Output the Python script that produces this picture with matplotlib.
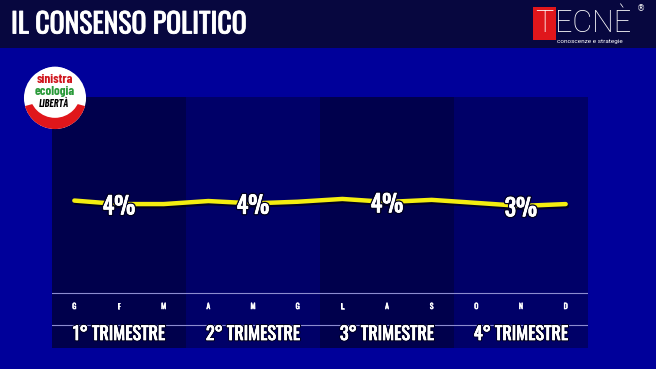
import matplotlib.pyplot as plt
import matplotlib.patheffects as pe
from matplotlib.patches import Rectangle, Circle, Wedge

months = ["G", "F", "M", "A", "M", "G", "L", "A", "S", "O", "N", "D"]
consensus = [3.96, 3.81, 3.81, 3.94, 3.84, 3.91, 4.03, 3.90, 3.99, 3.86, 3.73, 3.81]
quarters = ["1° TRIMESTRE", "2° TRIMESTRE", "3° TRIMESTRE", "4° TRIMESTRE"]
quarter_labels = ["4%", "4%", "4%", "3%"]
label_month = [1, 4, 7, 10]

W, H = 656, 369
NARROW = ["Oswald", "Barlow Condensed", "DejaVu Sans"]
LOGO = ["Barlow Condensed", "DejaVu Sans"]
THIN = ["Roboto", "DejaVu Sans"]

fig = plt.figure(figsize=(W / 100, H / 100), dpi=100)
fig.patch.set_facecolor("#00009a")

# header bar
fig.patches.append(Rectangle((0, 1 - 48 / H), 1, 48 / H, transform=fig.transFigure,
                             facecolor="#07073f", edgecolor="none", zorder=0))
fig.text(11 / W, 1 - 25 / H, "IL CONSENSO POLITICO", color="white", fontsize=20,
         family=NARROW, va="center", ha="left",
         path_effects=[pe.withStroke(linewidth=0.6, foreground="white")])

# TECNE logo
fig.patches.append(Rectangle((533 / W, 1 - 40 / H), 23 / W, 33 / H, transform=fig.transFigure,
                             facecolor="#e0161b", edgecolor="none", zorder=1))
fig.text(544.5 / W, 1 - 32 / H, "T", color="white", fontsize=22, fontweight="light",
         family=THIN, ha="center", va="baseline", zorder=2)
fig.text(555 / W, 1 - 32 / H, "ECNÈ", color="white", fontsize=22, fontweight="light",
         family=THIN, ha="left", va="baseline", zorder=2)
fig.text(557 / W, 1 - 38.5 / H, "conoscenze e strategie", color="white", fontsize=4.6,
         family=THIN, ha="left", va="top")
fig.text(637 / W, 1 - 9 / H, "®", color="white", fontsize=6, ha="left", va="center")

# main chart area
x0, x1, y0, y1 = 52, 588, 97, 348
ax = fig.add_axes([x0 / W, 1 - y1 / H, (x1 - x0) / W, (y1 - y0) / H])
ax.set_facecolor("#00005a")
ax.set_xlim(-0.5, 11.5)
ax.set_ylim(-2.36, 8.4)
for s in ax.spines.values():
    s.set_visible(False)
ax.set_xticks([])
ax.set_yticks([])

for q in range(4):
    ax.axvspan(q * 3 - 0.5, q * 3 + 2.5, color="#00004c" if q % 2 == 0 else "#000068",
               zorder=0, lw=0)

ax.axhline(0, color="#8c8cd0", lw=0.8, zorder=1)
ax.axhline(-1.37, color="#8c8cd0", lw=0.8, zorder=1)

xs = list(range(len(months)))
ax.plot(xs, consensus, color="#f4ee10", lw=3.2, solid_capstyle="round", solid_joinstyle="round",
        zorder=3, path_effects=[pe.SimpleLineShadow(offset=(1, -1.5), shadow_color="black", alpha=0.6),
                                pe.Normal()])

for q in range(4):
    m = label_month[q]
    ax.text(m, consensus[m] - 0.12, quarter_labels[q], color="white", fontsize=17,
            family=NARROW, ha="center", va="center", zorder=4,
            path_effects=[pe.withStroke(linewidth=2.5, foreground="#000020"), pe.Normal(),
                          pe.Stroke(linewidth=0.6, foreground="white"), pe.Normal()])
    ax.text(m, -1.76, quarters[q], color="white", fontsize=13,
            family=NARROW, ha="center", va="center", zorder=4,
            path_effects=[pe.withStroke(linewidth=2, foreground="#000020"), pe.Normal(),
                          pe.Stroke(linewidth=0.5, foreground="white"), pe.Normal()])

for i, mname in enumerate(months):
    ax.text(i, -0.56, mname, color="white", fontsize=5.5, family=NARROW,
            ha="center", va="center", zorder=4,
            path_effects=[pe.withStroke(linewidth=0.4, foreground="white")])

# SEL logo
lax = fig.add_axes([23 / W, 1 - 130 / H, 64 / W, 64 / H])
lax.set_xlim(-1, 1)
lax.set_ylim(-1, 1)
lax.set_aspect("equal")
lax.axis("off")
lax.add_patch(Circle((0, 0), 0.97, facecolor="white", edgecolor="none"))
lax.add_patch(Wedge((0, 0), 0.97, 195, 345, facecolor="#e0161b", edgecolor="none"))
lax.add_patch(Circle((0, 0.18), 0.8, facecolor="white", edgecolor="none"))
lax.text(0, 0.58, "sinistra", color="#d0151d", fontsize=9.5, fontweight="bold",
         family=LOGO, ha="center", va="center")
lax.text(0, 0.2, "ecologia", color="#2a9a3a", fontsize=9.5, fontweight="bold",
         family=LOGO, ha="center", va="center")
lax.text(-0.05, -0.18, "LIBERTÀ", color="black", fontsize=7.5, fontweight="bold",
         style="italic", family=LOGO, ha="center", va="center")

fig.savefig("out.png", dpi=100, facecolor=fig.get_facecolor())
